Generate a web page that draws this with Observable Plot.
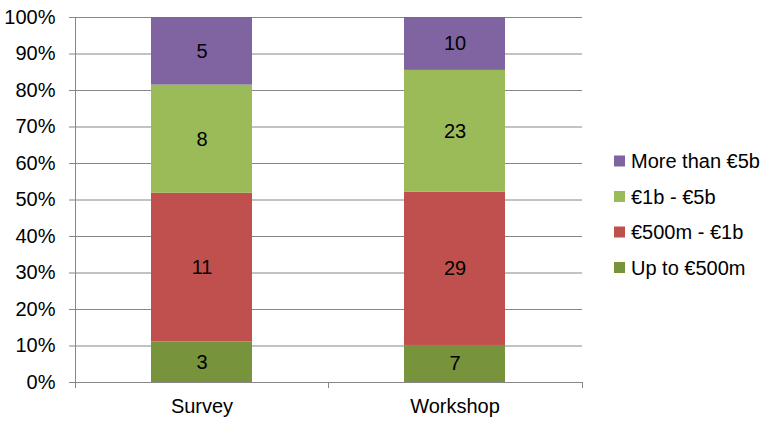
<!DOCTYPE html>
<html>
<head>
<meta charset="utf-8">
<script src="https://cdn.jsdelivr.net/npm/d3@7"></script>
<script src="https://cdn.jsdelivr.net/npm/@observablehq/plot@0.6"></script>
<style>
  html, body { margin: 0; padding: 0; background: #fff; }
</style>
</head>
<body>
<div id="chart"></div>
<script>
const categories = ["Survey", "Workshop"];
const series = ["Up to €500m", "€500m - €1b", "€1b - €5b", "More than €5b"];
const surveyValues = [3, 11, 8, 5];
const workshopValues = [7, 29, 23, 10];
const colors = ["#77933C", "#C0504D", "#9BBB59", "#8064A2"];
const yTicks = [0, 0.1, 0.2, 0.3, 0.4, 0.5, 0.6, 0.7, 0.8, 0.9, 1];

const valuesByCategory = [surveyValues, workshopValues];
const data = [];
categories.forEach((c, i) => {
  series.forEach((s, j) => {
    data.push({ category: c, series: s, value: valuesByCategory[i][j] });
  });
});

const font = "Liberation Sans, Arial, sans-serif";
const gridColor = "#868686";

const chart = Plot.plot({
  width: 771,
  height: 422,
  marginLeft: 75,
  marginRight: 189,
  marginTop: 17,
  marginBottom: 40,
  style: { fontFamily: font, fontSize: "20px", background: "white", color: "#000" },
  x: { domain: categories, paddingInner: 0.6, paddingOuter: 0.3, label: null },
  y: { domain: [0, 1], label: null },
  color: { domain: series, range: colors },
  marks: [
    Plot.ruleY(yTicks, { stroke: gridColor, strokeWidth: 1 }),
    Plot.barY(data, Plot.stackY({
      x: "category", y: "value", fill: "series",
      offset: "normalize", order: series
    })),
    Plot.text(data, Plot.stackY({
      x: "category", y: "value", z: "series", text: "value",
      offset: "normalize", order: series,
      fill: "#000", fontSize: 20, fontFamily: font
    })),
    Plot.axisY({
      ticks: yTicks, tickFormat: d3.format(".0%"), tickSize: 6, tickPadding: 14,
      stroke: gridColor, fill: "#000", fontSize: 20, fontFamily: font, label: null
    }),
    Plot.axisX({
      tickSize: 0, tickPadding: 16, fill: "#000", fontSize: 20, fontFamily: font, label: null
    })
  ]
});

// Axis line and category separator ticks, derived from the chart's scales
const sx = chart.scale("x");
const sy = chart.scale("y");
const svg = d3.select(chart);
const y0 = sy.apply(0), y1 = sy.apply(1);
const xr = sx.range;
const centers = categories.map(c => sx.apply(c) + sx.bandwidth / 2);
const bounds = [xr[0]];
for (let i = 0; i < centers.length - 1; i++) bounds.push((centers[i] + centers[i + 1]) / 2);
bounds.push(xr[1]);

svg.append("line")
  .attr("x1", xr[0] + 0.5).attr("x2", xr[0] + 0.5)
  .attr("y1", y1).attr("y2", y0 + 6)
  .attr("stroke", gridColor);
bounds.slice(1).forEach(b => {
  svg.append("line")
    .attr("x1", b + 0.5).attr("x2", b + 0.5)
    .attr("y1", y0).attr("y2", y0 + 6)
    .attr("stroke", gridColor);
});

// Legend
const legend = svg.append("g")
  .attr("font-family", font)
  .attr("font-size", 20)
  .attr("text-anchor", "start");
const legendItems = series.slice().reverse();
legendItems.forEach((s, i) => {
  const cy = 161 + i * 35.5;
  legend.append("rect")
    .attr("x", 614).attr("y", cy - 5.5)
    .attr("width", 11).attr("height", 11)
    .attr("fill", colors[series.indexOf(s)]);
  legend.append("text")
    .attr("x", 631).attr("y", cy)
    .attr("dy", "0.35em")
    .attr("text-anchor", "start")
    .attr("fill", "#000")
    .text(s);
});

document.getElementById("chart").appendChild(chart);
</script>
</body>
</html>
